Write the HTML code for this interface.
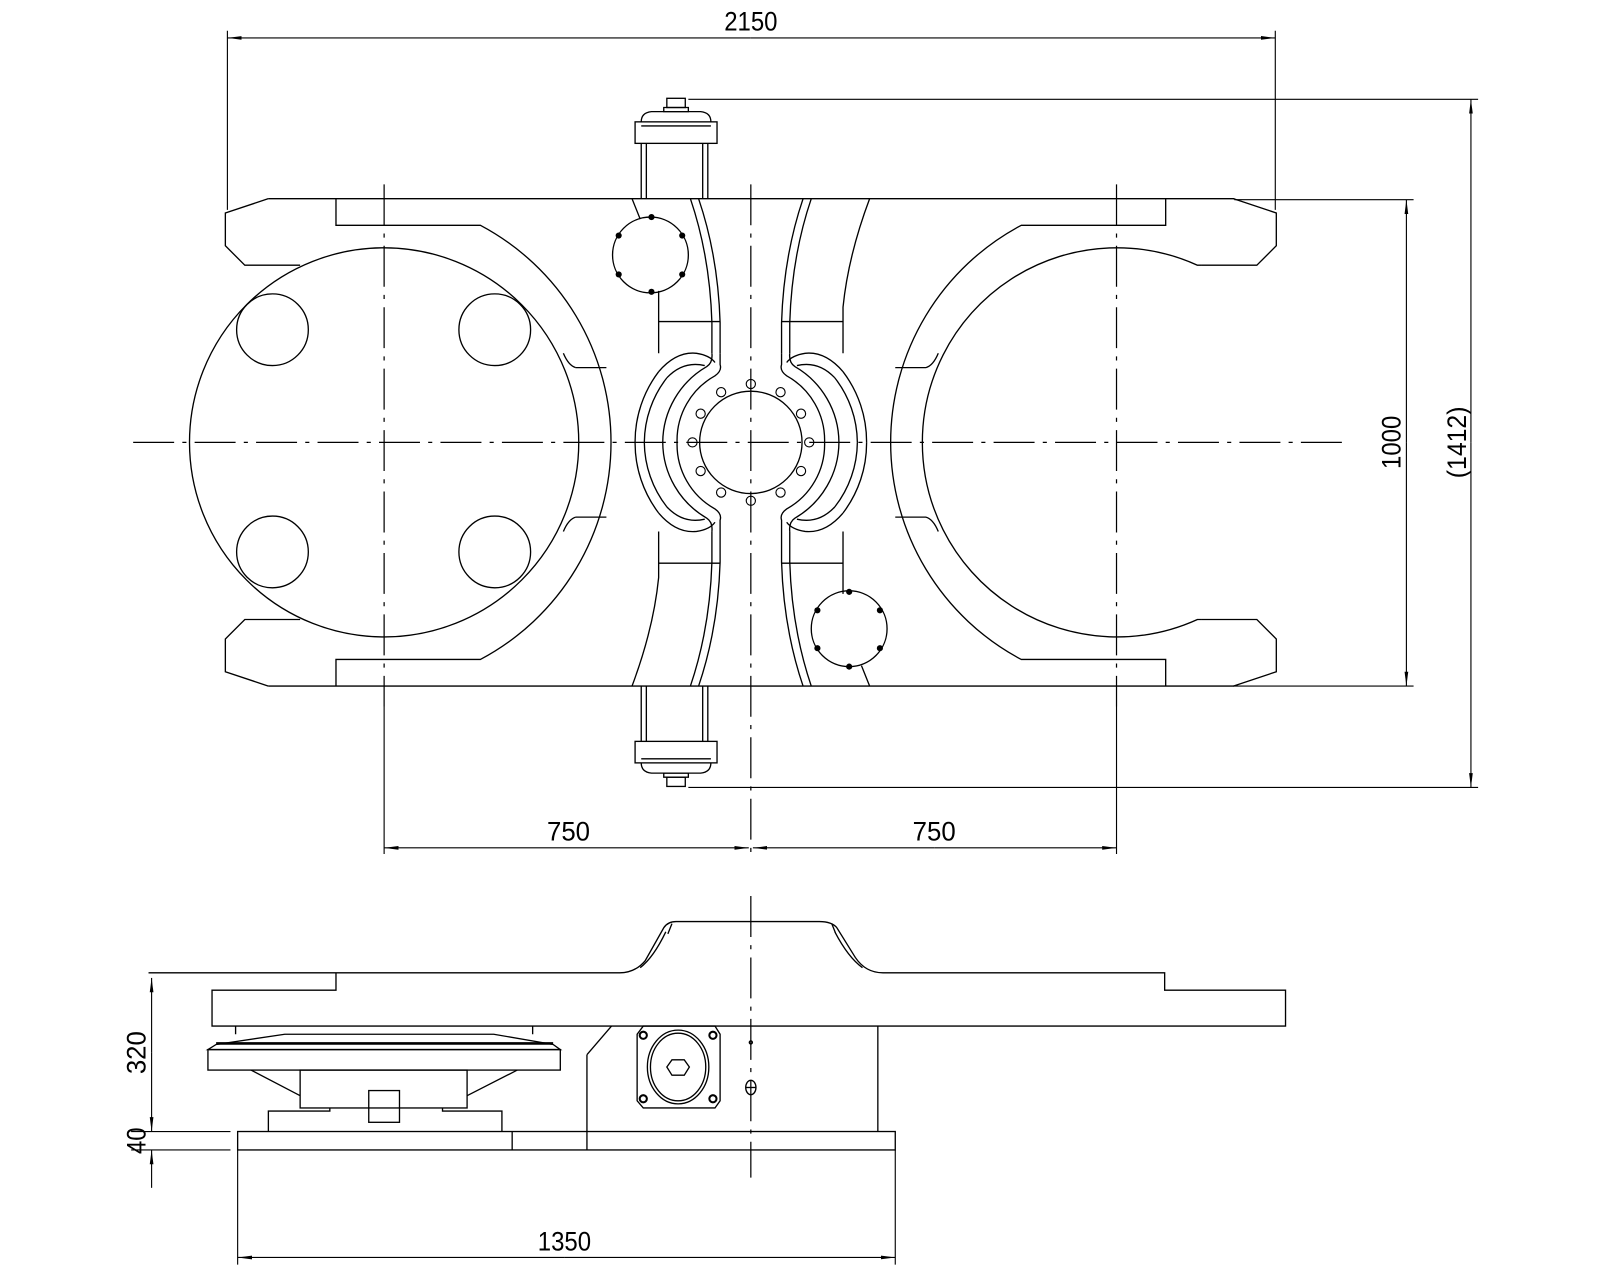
<!DOCTYPE html>
<html><head><meta charset="utf-8"><style>html,body{margin:0;padding:0;background:#fff}svg{display:block}</style></head>
<body>
<svg width="1600" height="1280" viewBox="0 0 1562 1250" preserveAspectRatio="none" xmlns="http://www.w3.org/2000/svg">
<defs>
<marker id="ar" markerWidth="14" markerHeight="6" refX="14" refY="3" orient="auto" markerUnits="userSpaceOnUse"><path d="M0,1.2 L14,3 L0,4.8 Z" fill="#000"/></marker>
</defs>
<g fill="none" stroke="#000" stroke-width="1.3">
<g stroke-dasharray="40,8,4,8" stroke-width="1.2">
<line x1="130" y1="432" x2="1310" y2="432"/>
<line x1="375" y1="180" x2="375" y2="690"/>
<line x1="1090" y1="180" x2="1090" y2="690"/>
<line x1="733" y1="180" x2="733" y2="835"/>
<line x1="733" y1="875" x2="733" y2="1150"/>
</g>
<path d="M262,194 L1205,194"/>
<path d="M262,670 L1205,670"/>
<path d="M262,194 L220,208 L220,240 L239,259 L293,259"/>
<path d="M262,670 L220,656 L220,624 L239,605 L293,605"/>
<path d="M328,194 L328,220 L469,220 A240,240 0 0 1 469,644 L328,644 L328,670"/>
<path d="M562,359 L592,359 M562,505 L592,505"/>
<path d="M550,345 Q555,357 562,359 M550,519 Q555,507 562,505"/>
<circle cx="375" cy="432" r="190"/>
<circle cx="266" cy="322" r="35"/><circle cx="483" cy="322" r="35"/>
<circle cx="266" cy="539" r="35"/><circle cx="483" cy="539" r="35"/>
<g transform="translate(1466,0) scale(-1,1)">
<path d="M262,194 L220,208 L220,240 L239,259 L293,259"/>
<path d="M262,670 L220,656 L220,624 L239,605 L293,605"/>
<path d="M328,194 L328,220 L469,220 A240,240 0 0 1 469,644 L328,644 L328,670"/>
<path d="M293,259 L297,259 A190,190 0 1 1 297,605 L293,605"/>
<path d="M562,359 L592,359 M562,505 L592,505"/>
<path d="M550,345 Q555,357 562,359 M550,519 Q555,507 562,505"/>
</g>
<!-- central bars + C frames, quarter drawn then mirrored -->
<g id="q">
<path d="M617,194 L625,214 M643,284 L643,345"/>
<path d="M674,194 Q693,250 695,315 L695,345"/>
<path d="M682,194 Q701,250 703,315 L703,345"/>
<path d="M643,314 L703,314"/>
<path d="M643,363 Q660,343 680,345 Q693,347 698,354"/>
<path d="M651,369 Q667,352 688,357"/>
<path d="M643,363 A113,113 0 0 0 620,432"/>
<path d="M651,369 A104,104 0 0 0 629,432"/>
<path d="M695,345 Q696,354 690,358 A86,86 0 0 0 647,432"/>
<path d="M703,345 L703,356 Q705,362 698,367 A72,72 0 0 0 661,432"/>
</g>
<g transform="translate(0,864) scale(1,-1)">
<path d="M674,194 Q693,250 695,315 L695,345"/>
<path d="M682,194 Q701,250 703,315 L703,345"/>
<path d="M617,194 Q638,250 643,300 L643,345"/>
<path d="M643,314 L703,314"/>
<path d="M643,363 Q660,343 680,345 Q693,347 698,354"/>
<path d="M651,369 Q667,352 688,357"/>
<path d="M643,363 A113,113 0 0 0 620,432"/>
<path d="M651,369 A104,104 0 0 0 629,432"/>
<path d="M695,345 Q696,354 690,358 A86,86 0 0 0 647,432"/>
<path d="M703,345 L703,356 Q705,362 698,367 A72,72 0 0 0 661,432"/>
</g>
<g transform="translate(1466,0) scale(-1,1)">
<path d="M617,194 Q638,250 643,300 L643,345"/>
<path d="M674,194 Q693,250 695,315 L695,345"/>
<path d="M682,194 Q701,250 703,315 L703,345"/>
<path d="M643,314 L703,314"/>
<path d="M643,363 Q660,343 680,345 Q693,347 698,354"/>
<path d="M651,369 Q667,352 688,357"/>
<path d="M643,363 A113,113 0 0 0 620,432"/>
<path d="M651,369 A104,104 0 0 0 629,432"/>
<path d="M695,345 Q696,354 690,358 A86,86 0 0 0 647,432"/>
<path d="M703,345 L703,356 Q705,362 698,367 A72,72 0 0 0 661,432"/>
</g>
<g transform="translate(1466,864) scale(-1,-1)">
<path d="M617,194 L625,214 M643,284 L643,345"/>
<path d="M674,194 Q693,250 695,315 L695,345"/>
<path d="M682,194 Q701,250 703,315 L703,345"/>
<path d="M643,314 L703,314"/>
<path d="M643,363 Q660,343 680,345 Q693,347 698,354"/>
<path d="M651,369 Q667,352 688,357"/>
<path d="M643,363 A113,113 0 0 0 620,432"/>
<path d="M651,369 A104,104 0 0 0 629,432"/>
<path d="M695,345 Q696,354 690,358 A86,86 0 0 0 647,432"/>
<path d="M703,345 L703,356 Q705,362 698,367 A72,72 0 0 0 661,432"/>
</g>
<circle cx="733" cy="432" r="50"/>
<g stroke-width="1.1">
<circle cx="733" cy="375" r="4.5"/><circle cx="762" cy="383" r="4.5"/><circle cx="782" cy="404" r="4.5"/>
<circle cx="790" cy="432" r="4.5"/><circle cx="782" cy="460" r="4.5"/><circle cx="762" cy="481" r="4.5"/>
<circle cx="733" cy="489" r="4.5"/><circle cx="704" cy="481" r="4.5"/><circle cx="684" cy="460" r="4.5"/>
<circle cx="676" cy="432" r="4.5"/><circle cx="684" cy="404" r="4.5"/><circle cx="704" cy="383" r="4.5"/>
</g>
<circle cx="635" cy="249" r="37"/>
<circle cx="829" cy="614" r="37"/>
<g fill="#000" stroke="none">
<circle cx="636" cy="212" r="3"/><circle cx="604" cy="230" r="3"/><circle cx="666" cy="230" r="3"/>
<circle cx="604" cy="268" r="3"/><circle cx="666" cy="268" r="3"/><circle cx="636" cy="285" r="3"/>
<circle cx="829" cy="578" r="3"/><circle cx="798" cy="596" r="3"/><circle cx="859" cy="596" r="3"/>
<circle cx="798" cy="633" r="3"/><circle cx="859" cy="633" r="3"/><circle cx="829" cy="651" r="3"/>
</g>
<!-- cylinders -->
<g>
<path d="M626,194 L626,140 M631,194 L631,140 M686,194 L686,140 M691,194 L691,140"/>
<rect x="620" y="119" width="80" height="21"/>
<path d="M626,119 Q626,110 636,109 L684,109 Q694,110 694,119"/>
<path d="M626,123 L694,123"/>
<rect x="651" y="96" width="18" height="9"/>
<path d="M648,105 L672,105 L672,109 L648,109 Z"/>
</g>
<g transform="translate(0,864) scale(1,-1)">
<path d="M626,194 L626,140 M631,194 L631,140 M686,194 L686,140 M691,194 L691,140"/>
<rect x="620" y="119" width="80" height="21"/>
<path d="M626,119 Q626,110 636,109 L684,109 Q694,110 694,119"/>
<path d="M626,123 L694,123"/>
<rect x="651" y="96" width="18" height="9"/>
<path d="M648,105 L672,105 L672,109 L648,109 Z"/>
</g>
<!-- dimensions top view -->
<g stroke-width="1.1">
<line x1="222" y1="30" x2="222" y2="205"/><line x1="1245" y1="30" x2="1245" y2="205"/>
<line x1="733" y1="37" x2="222" y2="37" marker-end="url(#ar)"/>
<line x1="733" y1="37" x2="1245" y2="37" marker-end="url(#ar)"/>
<line x1="1205" y1="195" x2="1380" y2="195"/><line x1="1205" y1="670" x2="1380" y2="670"/>
<line x1="1373" y1="432" x2="1373" y2="195" marker-end="url(#ar)"/>
<line x1="1373" y1="432" x2="1373" y2="670" marker-end="url(#ar)"/>
<line x1="672" y1="97" x2="1443" y2="97"/><line x1="672" y1="769" x2="1443" y2="769"/>
<line x1="1436" y1="432" x2="1436" y2="97" marker-end="url(#ar)"/>
<line x1="1436" y1="432" x2="1436" y2="769" marker-end="url(#ar)"/>
<line x1="375" y1="690" x2="375" y2="834"/><line x1="1090" y1="690" x2="1090" y2="834"/>
<line x1="555" y1="828" x2="375" y2="828" marker-end="url(#ar)"/>
<line x1="555" y1="828" x2="731" y2="828" marker-end="url(#ar)"/>
<line x1="912" y1="828" x2="735" y2="828" marker-end="url(#ar)"/>
<line x1="912" y1="828" x2="1090" y2="828" marker-end="url(#ar)"/>
</g>
<!-- side view -->
<path d="M145,950 L328,950 L328,967 L207,967 L207,1002 L1255,1002 L1255,967 L1137,967 L1137,950 L862,950 Q845,950 835,935 L817,906 Q812,900 800,900 L660,900 Q652,900 648,906 L630,938 Q620,950 605,950 L328,950"/>
<path d="M652,912 L656,902 M816,912 L812,902 M650,910 Q638,935 625,945 M815,910 Q828,935 842,945"/>
<path d="M230,1002 L230,1010 M520,1002 L520,1010"/>
<path d="M211,1020 L278,1010 L482,1010 L540,1020 L547,1025 L203,1025 Z"/>
<path d="M211,1019 L540,1019" stroke-width="2.5"/>
<rect x="203" y="1025" width="344" height="20"/>
<path d="M245,1045 L293,1070 M505,1045 L456,1070"/>
<rect x="293" y="1045" width="163" height="37"/>
<rect x="360" y="1065" width="30" height="31"/>
<path d="M262,1105 L262,1085 L322,1085 L322,1082 M490,1105 L490,1085 L432,1085 L432,1082"/>
<rect x="232" y="1105" width="642" height="18"/>
<line x1="500" y1="1105" x2="500" y2="1123"/>
<line x1="573" y1="1123" x2="573" y2="1030"/>
<line x1="573" y1="1030" x2="597" y2="1002"/>
<line x1="857" y1="1002" x2="857" y2="1105"/>
<path d="M628,1002 L698,1002 L703,1010 L703,1075 L698,1082 L628,1082 L622,1075 L622,1010 Z"/>
<ellipse cx="662" cy="1042" rx="30" ry="36"/><ellipse cx="662" cy="1042" rx="27" ry="33"/>
<path d="M656,1035 L668,1035 L673,1042 L668,1050 L656,1050 L651,1042 Z"/>
<g stroke-width="2"><circle cx="628" cy="1011" r="3.5"/><circle cx="696" cy="1011" r="3.5"/><circle cx="628" cy="1073" r="3.5"/><circle cx="696" cy="1073" r="3.5"/></g>
<ellipse cx="733" cy="1062" rx="5" ry="7"/><line x1="728" y1="1062" x2="738" y2="1062"/>
<circle cx="733" cy="1018" r="1.5"/>
<g stroke-width="1.1">
<line x1="148" y1="1028" x2="148" y2="955" marker-end="url(#ar)"/>
<line x1="148" y1="1028" x2="148" y2="1105" marker-end="url(#ar)"/>
<line x1="128" y1="1105" x2="225" y2="1105"/><line x1="128" y1="1123" x2="225" y2="1123"/>
<line x1="148" y1="1160" x2="148" y2="1123" marker-end="url(#ar)"/>
<line x1="232" y1="1123" x2="232" y2="1235"/><line x1="874" y1="1123" x2="874" y2="1235"/>
<line x1="551" y1="1228" x2="232" y2="1228" marker-end="url(#ar)"/>
<line x1="551" y1="1228" x2="874" y2="1228" marker-end="url(#ar)"/>
</g>
</g>
<g font-family="Liberation Sans Narrow, Liberation Sans, sans-serif" font-size="26" fill="#000" text-anchor="middle">
<text x="733" y="30" textLength="52" lengthAdjust="spacingAndGlyphs">2150</text>
<text x="555" y="821" textLength="42" lengthAdjust="spacingAndGlyphs">750</text>
<text x="912" y="821" textLength="42" lengthAdjust="spacingAndGlyphs">750</text>
<text x="551" y="1221" textLength="52" lengthAdjust="spacingAndGlyphs">1350</text>
<text transform="translate(1367,432) rotate(-90)" textLength="52" lengthAdjust="spacingAndGlyphs">1000</text>
<text transform="translate(1431,432) rotate(-90)" textLength="70" lengthAdjust="spacingAndGlyphs">(1412)</text>
<text transform="translate(142,1028) rotate(-90)" textLength="42" lengthAdjust="spacingAndGlyphs">320</text>
<text transform="translate(142,1114) rotate(-90)" textLength="26" lengthAdjust="spacingAndGlyphs">40</text>
</g>
</svg>
</body></html>
